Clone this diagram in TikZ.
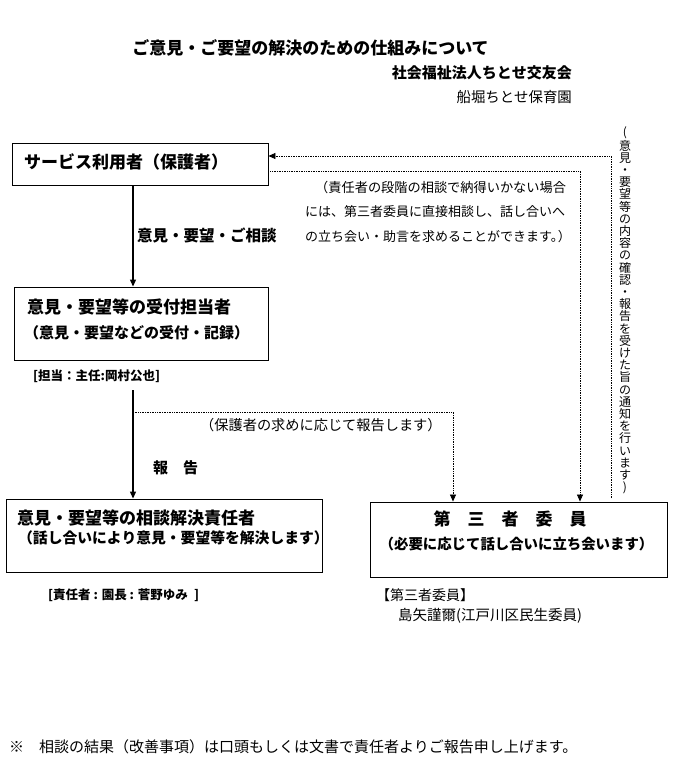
\documentclass[tikz,border=0pt]{standalone}
\usepackage{fontspec}
\setmainfont{Noto Sans CJK JP}
\usetikzlibrary{arrows.meta}
\newcommand{\fsz}[1]{\fontsize{#1}{#1}\selectfont}
\tikzset{
  boxnode/.style={draw=black, line width=0.9pt, inner sep=0pt, fill=white},
  txt/.style={inner sep=0pt, anchor=west},
  solidarr/.style={line width=1.2pt, -{Triangle[length=7pt,width=6pt]}},
  dotarr/.style={line width=0.7pt, dash pattern=on 0.8pt off 0.9pt, -{Triangle[length=7pt,width=6pt]}},
  dotline/.style={line width=0.7pt, dash pattern=on 0.8pt off 0.9pt},
}
\begin{document}
\begin{tikzpicture}[x=1pt,y=-1pt]
\useasboundingbox[fill=white] (0,0) rectangle (680,780);

% title and organisation
\node[font=\bfseries\fsz{17}] (title) at (310.5,48) {ご意見・ご要望の解決のための仕組みについて};
\node[font=\bfseries\fsz{15}, anchor=east, inner sep=0pt] (org) at (572,73) {社会福祉法人ちとせ交友会};
\node[font=\fsz{14.4}, anchor=east, inner sep=0pt] (org2) at (572,97) {船堀ちとせ保育園};

% boxes
\node[boxnode, minimum width=256pt, minimum height=42pt] (b1) at (140,164) {};
\node[boxnode, minimum width=254pt, minimum height=73pt] (b2) at (141,323.5) {};
\node[boxnode, minimum width=316pt, minimum height=73pt] (b4) at (164,535.5) {};
\node[boxnode, minimum width=297pt, minimum height=75pt] (b3) at (518.5,539.5) {};

% helper coordinates
\coordinate (cx) at (133,0);
\coordinate (s2) at (133,390);
\coordinate (j1) at (133,412);
\coordinate (c453) at (453,0);
\coordinate (c580) at (580,0);
\coordinate (y156) at (0,156);
\coordinate (y171) at (0,171);
\coordinate (v0) at (611,498);

% connectors
\draw[solidarr] (b1.south -| cx) -- (b2.north -| cx);
\draw[solidarr] (s2) -- (b4.north -| cx);
\draw[dotarr] (j1) -| (b3.north -| c453);
\draw[dotarr] (b1.east |- y171) -| (b3.north -| c580);
\draw[dotarr] (v0) |- (b1.east |- y156);

% box texts
\node[txt, font=\bfseries\fsz{17}] (t1) at (24,162) {サービス利用者（保護者）};
\node[txt, font=\bfseries\fsz{17}] (t2a) at (27,307) {意見・要望等の受付担当者};
\node[txt, font=\bfseries\fsz{15}] (t2b) at (24,333) {（意見・要望などの受付・記録）};
\node[txt, font=\bfseries\fsz{17}] (t4a) at (17,518) {意見・要望等の相談解決責任者};
\node[txt, font=\bfseries\fsz{14.8}] (t4b) at (18,538) {（話し合いにより意見・要望等を解決します）};
\node[font=\bfseries\fsz{17}, inner sep=0pt] (t3a) at (510,519) {第　三　者　委　員};
\node[font=\bfseries\fsz{14.4}, inner sep=0pt] (t3b) at (516.5,544) {（必要に応じて話し合いに立ち会います）};

% labels
\node[txt, font=\bfseries\fsz{15.5}] (l1) at (137,235) {意見・要望・ご相談};
\node[txt, font=\fsz{13.2}] (n1) at (315,187) {（責任者の段階の相談で納得いかない場合};
\node[txt, font=\fsz{13}] (n2) at (305,212) {には、第三者委員に直接相談し、話し合いへ};
\node[txt, font=\fsz{13}] (n3) at (305,237) {の立ち会い・助言を求めることができます。\kern-6pt）};
\node[txt, font=\bfseries\fsz{12.5}] (l2) at (33,376) {[担当：主任:岡村公也]};
\node[txt, font=\fsz{14.2}] (l3) at (200,425) {（保護者の求めに応じて報告します）};
\node[txt, font=\bfseries\fsz{15}] (l4) at (153,468) {報　告};
\node[txt, font=\bfseries\fsz{12.5}] (l5) at (48,595) {[責任者 : 園長 : 菅野ゆみ\enspace]};
\node[txt, font=\fsz{14}] (l6) at (376,595) {【第三者委員】};
\node[txt, font=\fsz{14.5}] (l7) at (398,616) {島矢謹爾(江戸川区民生委員)};

% vertical text
\node[font=\fontsize{12}{12.2}\selectfont, align=center, inner sep=0pt] (vt) at (625,310.5)
 {(\\意\\見\\・\\要\\望\\等\\の\\内\\容\\の\\確\\認\\・\\報\\告\\を\\受\\け\\た\\旨\\の\\通\\知\\を\\行\\い\\ま\\す\\)};

% footer
\node[txt, font=\fsz{15}] (foot) at (9,747) {※　相談の結果（改善事項）は口頭もしくは文書で責任者よりご報告申し上げます。};
\end{tikzpicture}
\end{document}
